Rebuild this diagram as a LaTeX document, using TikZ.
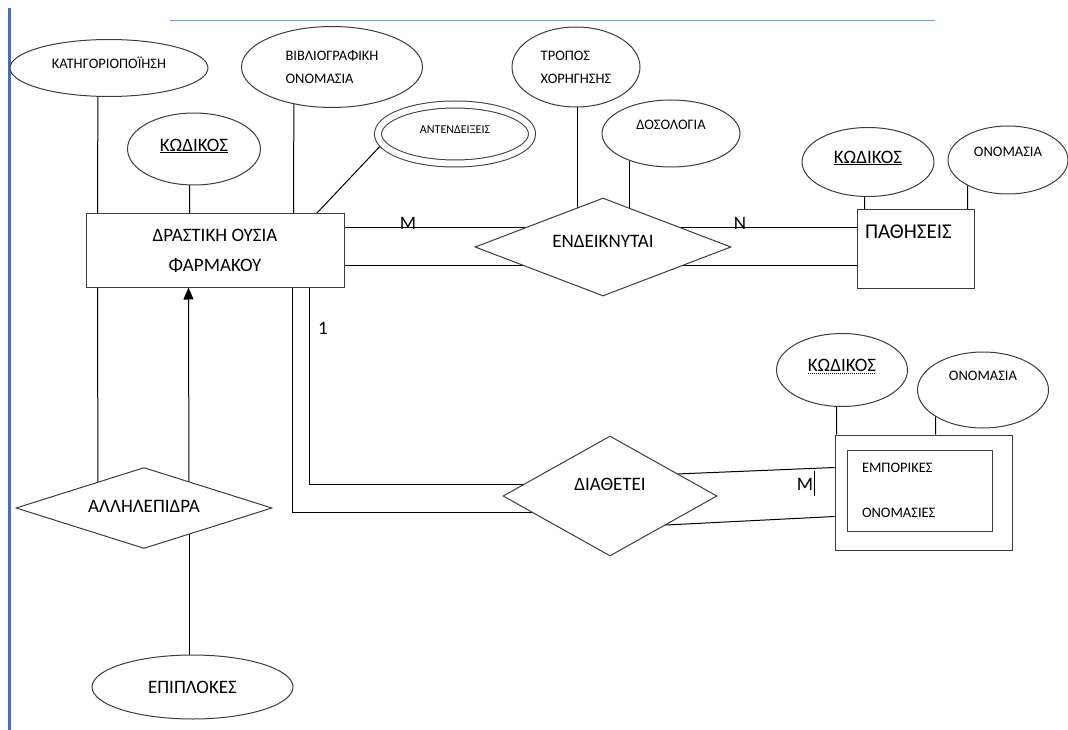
\documentclass[tikz,border=0pt]{standalone}
\usepackage{fontspec}
\setmainfont{Carlito}
\usetikzlibrary{shapes.geometric,backgrounds,calc,arrows.meta}

\definecolor{marginblue}{RGB}{79,110,165}
\definecolor{rulerblue}{RGB}{125,150,195}
\definecolor{inkgray}{RGB}{60,60,60}

% dotted underline
\newcommand{\dotunder}[1]{\leavevmode\setbox0\hbox{#1}\rlap{\raisebox{-3pt}{\hbox to \wd0{\leaders\hbox to 2pt{\hss\rule{1pt}{1pt}\hss}\hfill}}}\box0}

\tikzset{
  entity/.style={draw=inkgray, rectangle, fill=white, line width=1pt, inner sep=0pt},
  attrib/.style={draw=inkgray, ellipse, fill=white, line width=1pt, inner sep=0pt},
  relship/.style={draw=inkgray, diamond, fill=white, line width=1pt, inner sep=0pt},
  link/.style={draw=black, line width=1pt},
  bigtxt/.style={font=\fontsize{19}{30}\selectfont},
  smalltxt/.style={font=\fontsize{14.5}{23}\selectfont},
}

\begin{document}
\begin{tikzpicture}[x=1pt,y=-1pt]
	\useasboundingbox (0,0) rectangle (1068,730);

	% page margins
	\draw[marginblue, line width=3pt] (9,8) -- (9,730);
	\draw[rulerblue, line width=1pt] (170,21) -- (935,21);

	% entities
	\node[entity, bigtxt, align=center, minimum width=258pt, minimum height=73pt] (ousia) at (215,250.5) {ΔΡΑΣΤΙΚΗ ΟΥΣΙΑ\\ΦΑΡΜΑΚΟΥ};
	\node[entity, font=\fontsize{21}{24}\selectfont, align=left, text width=101pt, inner xsep=8pt, text depth=34pt, minimum height=78pt] (pat) at (915.5,249) {ΠΑΘΗΣΕΙΣ};
	\node[entity, minimum width=177pt, minimum height=115pt] (emp) at (923.5,492.5) {};
	\node[entity, font=\fontsize{14.5}{45}\selectfont, align=left, text width=115pt, inner xsep=15pt, minimum height=81pt] (empin) at (919.5,490.5) {ΕΜΠΟΡΙΚΕΣ\\ΟΝΟΜΑΣΙΕΣ};

	% attributes
	\node[attrib, smalltxt, text depth=10pt, minimum width=198pt, minimum height=57pt] (kat) at (109,68) {ΚΑΤΗΓΟΡΙΟΠΟΪΗΣΗ};
	\node[attrib, bigtxt, text depth=8pt, minimum width=133pt, minimum height=72pt] (kod1) at (194,149) {\underline{ΚΩΔΙΚΟΣ}};
	\node[attrib, smalltxt, align=left, minimum width=181pt, minimum height=81pt] (bib) at (332,67) {ΒΙΒΛΙΟΓΡΑΦΙΚΗ\\ΟΝΟΜΑΣΙΑ};
	\node[attrib, double, double distance=6pt, font=\fontsize{12}{14}\selectfont, text depth=8pt, minimum width=154pt, minimum height=59pt] (ant) at (455,134) {ΑΝΤΕΝΔΕΙΞΕΙΣ};
	\node[attrib, smalltxt, align=left, minimum width=128pt, minimum height=80pt] (trop) at (576,67) {ΤΡΟΠΟΣ\\ΧΟΡΗΓΗΣΗΣ};
	\node[attrib, smalltxt, text depth=17pt, minimum width=138pt, minimum height=67pt] (dos) at (671,133.5) {ΔΟΣΟΛΟΓΙΑ};
	\node[attrib, bigtxt, text depth=10pt, minimum width=132pt, minimum height=69pt] (kod2) at (868,162) {\underline{ΚΩΔΙΚΟΣ}};
	\node[attrib, smalltxt, text depth=16pt, minimum width=120pt, minimum height=68pt] (onom1) at (1008,160) {ΟΝΟΜΑΣΙΑ};
	\node[attrib, bigtxt, text depth=10pt, minimum width=131pt, minimum height=73pt] (kod3) at (842,370) {\dotunder{ΚΩΔΙΚΟΣ}};
	\node[attrib, smalltxt, text depth=28pt, minimum width=131pt, minimum height=76pt] (onom2) at (983,390) {ΟΝΟΜΑΣΙΑ};
	\node[attrib, bigtxt, minimum width=201pt, minimum height=64pt] (epipl) at (192.5,687) {ΕΠΙΠΛΟΚΕΣ\hspace{30pt}};

	% relationships
	\node[relship, bigtxt, aspect=2.6, text depth=12pt, minimum width=256pt, minimum height=98pt] (endeik) at (603,247) {ΕΝΔΕΙΚΝΥΤΑΙ};
	\node[relship, bigtxt, aspect=1.8, text depth=24pt, minimum width=214pt, minimum height=120pt] (diath) at (610,496) {ΔΙΑΘΕΤΕΙ\hspace{18pt}};
	\node[relship, bigtxt, aspect=3.2, text depth=4pt, minimum width=256pt, minimum height=81pt] (allil) at (144,508) {ΑΛΛΗΛΕΠΙΔΡΑ};

	% cardinalities
	\node[bigtxt, inner sep=0pt] (mone) at (408,223) {M};
	\node[bigtxt, inner sep=0pt] (nmany) at (740,223) {N};
	\node[bigtxt, inner sep=0pt] (one) at (323,328) {1};
	\node[bigtxt, inner sep=0pt] (mtwo) at (805,484) {M};
	\draw[black, line width=1.3pt] ($(mtwo.east)+(1,-13)$) -- ($(mtwo.east)+(1,12)$);

	\begin{scope}[on background layer]
		% attribute links
		\draw[link] ($(ousia.north west)+(12,0)$) -- ($(kat.center)+(-11,0)$);
		\draw[link] ($(ousia.north west)+(104,0)$) -- ($(kod1.center)+(-4,0)$);
		\draw[link] ($(ousia.north west)+(208,0)$) -- ($(bib.center)+(-38,0)$);
		\draw[link] ($(ousia.north west)+(231,0)$) -- ($(ant.center)+(-70,7)$);
		\draw[link] ($(trop.center)+(1,0)$) -- ($(endeik.center)+(-26,0)$);
		\draw[link] ($(dos.center)+(-42,0)$) -- ($(endeik.center)+(26,0)$);
		\draw[link] ($(kod2.center)+(-3,0)$) -- ($(pat.north west)+(8,0)$);
		\draw[link] ($(onom1.center)+(-40,0)$) -- ($(pat.north west)+(111,0)$);
		\draw[link] ($(kod3.center)+(-5,0)$) -- ($(emp.north west)+(2,0)$);
		\draw[link] ($(onom2.center)+(-47,0)$) -- ($(emp.north west)+(101,0)$);
		\draw[link] ($(allil.center)+(45,0)$) -- ($(epipl.center)+(-3.5,0)$);

		% relationship links
		\draw[link] ($(ousia.east)+(0,-22.5)$) -- ($(endeik.center)+(0,-19)$);
		\draw[link] ($(ousia.east)+(0,14.5)$) -- ($(endeik.center)+(0,18)$);
		\draw[link] ($(endeik.center)+(0,-19)$) -- ($(pat.west)+(0,-21)$);
		\draw[link] ($(endeik.center)+(0,18)$) -- ($(pat.west)+(0,16)$);
		\draw[link] ($(ousia.south west)+(207,0)$) |- ($(diath.center)+(0,16)$);
		\draw[link] ($(ousia.south west)+(224,0)$) |- ($(diath.center)+(0,-12)$);
		\draw[link] ($(diath.center)+(30,-20.5)$) -- ($(emp.north west)+(0,33)$);
		\draw[link] ($(diath.center)+(30,30.3)$) -- ($(emp.north west)+(0,82)$);
		\draw[link] ($(ousia.south west)+(12,0)$) -- ($(allil.center)+(-46,0)$);
		\draw[link, -{Triangle[length=12pt,width=10pt]}] ($(allil.center)+(45,0)$) -- ($(ousia.south west)+(103,0)$);
	\end{scope}
\end{tikzpicture}
\end{document}
